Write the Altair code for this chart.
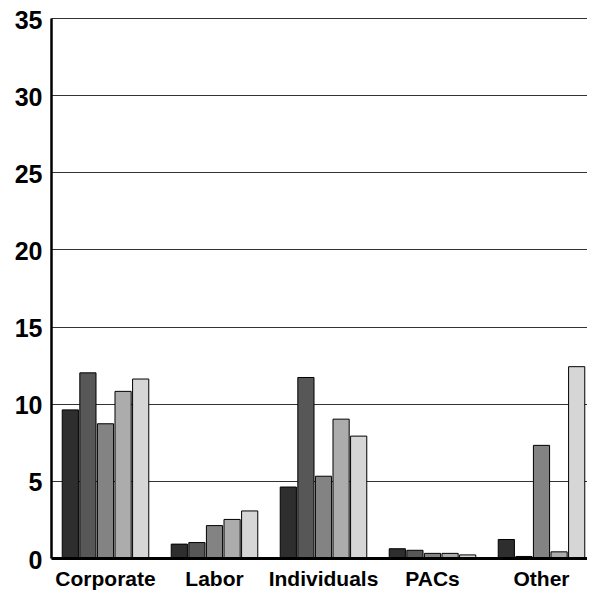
import altair as alt
import pandas as pd

categories = ["Corporate", "Labor", "Individuals", "PACs", "Other"]
series = ["Series 1", "Series 2", "Series 3", "Series 4", "Series 5"]
s1 = [9.6, 0.9, 4.6, 0.6, 1.2]
s2 = [12.0, 1.0, 11.7, 0.5, 0.1]
s3 = [8.7, 2.1, 5.3, 0.3, 7.3]
s4 = [10.8, 2.5, 9.0, 0.3, 0.4]
s5 = [11.6, 3.05, 7.9, 0.2, 12.4]
colors = ["#2e2e2e", "#575757", "#838383", "#acacac", "#d6d6d6"]
y_ticks = [0, 5, 10, 15, 20, 25, 30, 35]

rows = []
for name, vals in zip(series, [s1, s2, s3, s4, s5]):
    for cat, v in zip(categories, vals):
        rows.append({"category": cat, "series": name, "value": v})
df = pd.DataFrame(rows)

FONT = "Liberation Sans"

chart = alt.Chart(df).mark_bar(stroke="black", strokeWidth=1).encode(
    x=alt.X(
        "category:N",
        sort=categories,
        title=None,
        scale=alt.Scale(paddingInner=0.206, paddingOuter=0.103, range=[0, 545]),
        axis=alt.Axis(
            labelAngle=0,
            labelFont=FONT,
            labelFontSize=21,
            labelFontWeight="bold",
            labelColor="black",
            labelPadding=10,
            ticks=False,
            grid=False,
            domain=True,
            domainColor="black",
            domainWidth=3,
            zindex=1,
        ),
    ),
    xOffset=alt.XOffset(
        "series:N", sort=series, scale=alt.Scale(paddingInner=0.08, paddingOuter=0)
    ),
    y=alt.Y(
        "value:Q",
        title=None,
        scale=alt.Scale(domain=[0, 35], nice=False),
        axis=alt.Axis(
            values=y_ticks,
            labelFont=FONT,
            labelFontSize=25,
            labelFontWeight="bold",
            labelColor="black",
            labelPadding=9,
            labelOffset=2,
            ticks=False,
            grid=True,
            gridColor="#333333",
            gridWidth=1,
            domain=True,
            domainColor="black",
            domainWidth=2.5,
        ),
    ),
    color=alt.Color(
        "series:N", scale=alt.Scale(domain=series, range=colors), legend=None
    ),
).properties(
    width=536,
    height=540,
    autosize="none",
    padding={"left": 43, "top": 10, "right": 0, "bottom": 32},
).configure_view(stroke=None)

chart.save("out.html", embed_options={"renderer": "svg", "actions": False})
